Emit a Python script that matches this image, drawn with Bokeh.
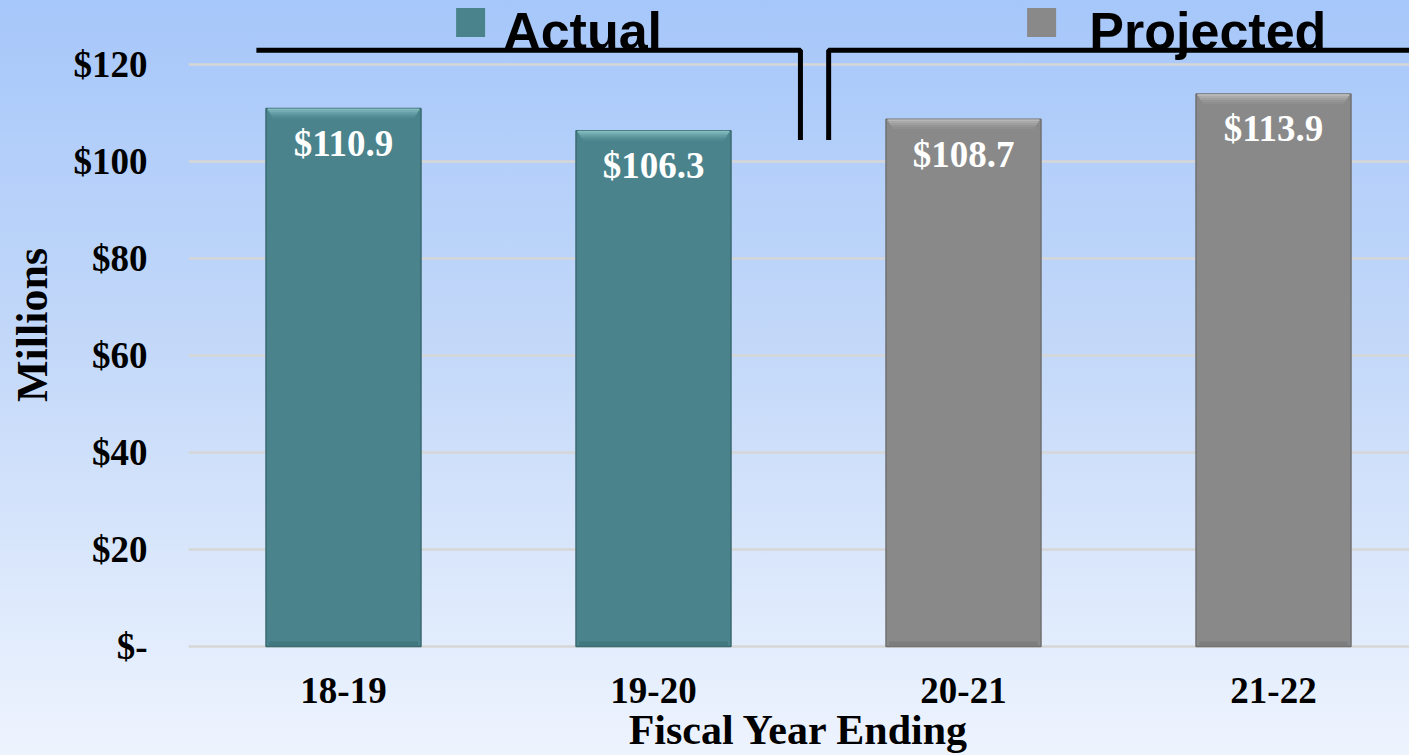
from bokeh.plotting import figure
from bokeh.models import Range1d, FixedTicker, ColumnDataSource
from bokeh.core.properties import value
from bokeh.embed import file_html
from bokeh.resources import INLINE

# ---- data ----
categories = ["18-19", "19-20", "20-21", "21-22"]
amounts = [110.9, 106.3, 108.7, 113.9]
status = ["Actual", "Actual", "Projected", "Projected"]
y_ticks = [0, 20, 40, 60, 80, 100, 120]
y_tick_labels = ["$-", "$20", "$40", "$60", "$80", "$100", "$120"]
legend_names = ["Actual", "Projected"]
x_title = "Fiscal Year Ending"
y_title = "Millions"

# ---- style ----
fill = {"Actual": "#4a838b", "Projected": "#898989"}
edge = {"Actual": "#3a6a71", "Projected": "#707070"}
light = {"Actual": "#90c8cc", "Projected": "#c0c0c0"}
dark = {"Actual": "#3f747b", "Projected": "#7b7b7b"}
SERIF = "Liberation Serif"
SANS = "Liberation Sans"

W, H = 1409, 755
LEFT = 188
PXU = 4.867            # pixels per data unit (y)
PXX = 310.0            # pixels per category (x)
y_top = 120 + 64 / PXU
y_bot = -0.6
frame_h = (y_top - y_bot) * PXU
BOTTOM = H - frame_h
x_start = -0.5
x_end = x_start + (W - LEFT) / PXX

xs = list(range(len(categories)))
data = dict(
    x=xs,
    top=amounts,
    fill=[fill[s] for s in status],
    edge=[edge[s] for s in status],
    light=[light[s] for s in status],
    dark=[dark[s] for s in status],
    base_top=[5 / PXU] * len(amounts),
    label=["$%.1f" % a for a in amounts],
)
bevel = [(0.49, 0.85), (0.482, 0.6), (0.474, 0.4), (0.466, 0.22), (0.458, 0.1)]
for k in range(len(bevel)):
    data["t%d" % k] = [a - k * 2 / PXU for a in amounts]
    data["b%d" % k] = [a - (k + 1) * 2 / PXU for a in amounts]
src = ColumnDataSource(data)

p = figure(width=W, height=H, output_backend="svg", toolbar_location=None,
           x_range=Range1d(x_start, x_end), y_range=Range1d(y_bot, y_top),
           min_border_left=LEFT, min_border_right=0, min_border_top=0,
           min_border_bottom=int(round(BOTTOM)), title=None)

p.styles = {"background": "linear-gradient(to bottom, #a6c7fa 0%, #c6daf9 50%, #eef4fe 100%)"}
p.background_fill_alpha = 0
p.border_fill_alpha = 0
p.outline_line_color = None

# bars
p.vbar(x="x", top="top", bottom=0, width=0.5, source=src,
       fill_color="fill", line_color="edge", line_width=1.5)
for k, (w, a) in enumerate(bevel):
    p.vbar(x="x", top="t%d" % k, bottom="b%d" % k, width=w, source=src,
           fill_color="light", fill_alpha=a, line_color=None)
p.vbar(x="x", top="base_top", bottom=0, width=0.48, source=src,
       fill_color="dark", fill_alpha=0.8, line_color=None)

# value labels
p.text(x="x", y="top", text="label", source=src, y_offset=35,
       text_align="center", text_baseline="middle", text_color="white",
       text_font=value(SERIF), text_font_style="bold", text_font_size="37px")

# brackets
p.line(x=[-0.281, 1.474, 1.474], y=[122.9, 122.9, 104.4], line_color="black", line_width=5)
p.line(x=[1.565, 1.565, x_end + 0.1], y=[104.4, 122.9, 122.9], line_color="black", line_width=5)

# legend
p.scatter(x=[0.41, 2.252], y=[128.6, 128.6], marker="square", size=29,
          fill_color=[fill[n] for n in legend_names], line_color=None)
p.text(x=[0.515, 2.406], y=[126.8, 126.8], text=legend_names,
       text_align="left", text_baseline="alphabetic", text_color="black",
       text_font=value(SANS), text_font_style="bold", text_font_size="52px")

# axes
p.xaxis.ticker = FixedTicker(ticks=xs)
p.xaxis.major_label_overrides = {i: c for i, c in zip(xs, categories)}
p.yaxis.ticker = FixedTicker(ticks=y_ticks)
p.yaxis.major_label_overrides = {t: l for t, l in zip(y_ticks, y_tick_labels)}
for ax in (p.xaxis[0], p.yaxis[0]):
    ax.axis_line_color = None
    ax.major_tick_line_color = None
    ax.minor_tick_line_color = None
    ax.major_tick_out = 0
    ax.major_tick_in = 0
    ax.major_label_text_font = SERIF
    ax.major_label_text_font_style = "bold"
    ax.major_label_text_font_size = "37px"
    ax.major_label_text_color = "black"
    ax.axis_label_text_font = SERIF
    ax.axis_label_text_font_style = "bold"
    ax.axis_label_text_color = "black"

p.xaxis.major_label_standoff = 28
p.xaxis.axis_label = x_title
p.xaxis.axis_label_text_font_size = "42px"
p.xaxis.axis_label_standoff = 1
p.yaxis.major_label_standoff = 41
p.yaxis.axis_label = y_title
p.yaxis.axis_label_text_font_size = "44px"
p.yaxis.axis_label_standoff = 14

p.xgrid.grid_line_color = None
p.ygrid.ticker = FixedTicker(ticks=y_ticks)
p.ygrid.grid_line_color = "#d6d6d6"
p.ygrid.grid_line_width = 2.5

open("out.html", "w").write(file_html(p, INLINE))
